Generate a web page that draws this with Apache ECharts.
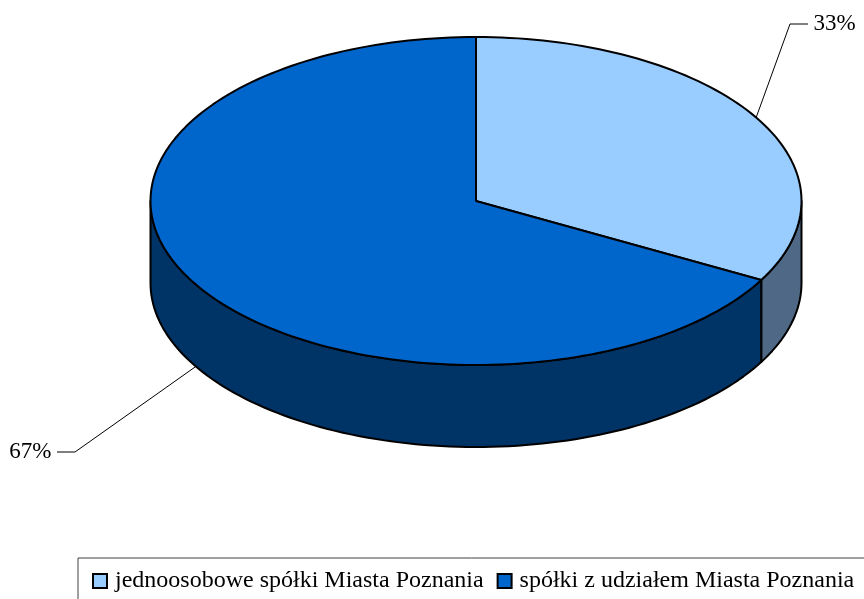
<!DOCTYPE html>
<html>
<head>
<meta charset="utf-8">
<title>Udział spółek</title>
<script src="https://cdn.jsdelivr.net/npm/echarts@6/dist/echarts.min.js"></script>
<style>
  html, body { margin: 0; padding: 0; background: #fff; }
  #chart { width: 864px; height: 599px; }
</style>
</head>
<body>
<div id="chart"></div>
<script>
const categories = ["jednoosobowe spółki Miasta Poznania", "spółki z udziałem Miasta Poznania"];
const shares = [33, 67];

const topColors = ["#99ccff", "#0066cc"];
const wallColors = ["#4f6885", "#003366"];
// where each leader line bends, and which way the label sits from there
const elbows = [[790, 24], [75, 452]];
const labelSide = [1, -1];

const font = '"Liberation Serif", "Times New Roman", serif';
const cx = 476, cy = 201, rx = 325.5, ry = 164, depth = 82;
const total = shares.reduce((a, b) => a + b, 0);

// angle is clockwise from the top of the ellipse, in degrees
function rim(deg, drop) {
  const a = deg * Math.PI / 180;
  return [cx + rx * Math.sin(a), cy - ry * Math.cos(a) + (drop || 0)];
}

function arc(from, to, drop) {
  const pts = [];
  const steps = Math.max(2, Math.ceil((to - from) / 1.5));
  for (let i = 0; i <= steps; i++) {
    pts.push(rim(from + (to - from) * i / steps, drop));
  }
  return pts;
}

function renderSlice(idx) {
  return function (params, api) {
    const value = api.value(0);
    const before = api.value(1);
    const start = echarts.number.linearMap(before, [0, total], [0, 360]);
    const end = echarts.number.linearMap(before + value, [0, total], [0, 360]);
    const mid = (start + end) / 2;
    const children = [];

    // only the front half of the ellipse shows a wall
    const wallFrom = Math.max(start, 90);
    const wallTo = Math.min(end, 270);
    if (wallTo > wallFrom) {
      children.push({
        type: "polygon",
        shape: { points: arc(wallFrom, wallTo, 0).concat(arc(wallFrom, wallTo, depth).reverse()) },
        style: { fill: wallColors[idx], stroke: "#000", lineWidth: 2, lineJoin: "round" }
      });
    }

    children.push({
      type: "polygon",
      shape: { points: [[cx, cy]].concat(arc(start, end, 0)) },
      style: { fill: topColors[idx], stroke: "#000", lineWidth: 2, lineJoin: "round" }
    });

    const onFront = mid > 90 && mid < 270;
    const anchor = rim(mid, onFront ? depth : 0);
    const side = labelSide[idx];
    const elbow = elbows[idx];
    children.push({
      type: "polyline",
      shape: { points: [anchor, elbow, [elbow[0] + side * 18, elbow[1]]] },
      style: { fill: null, stroke: "#000", lineWidth: 1 }
    });
    children.push({
      type: "text",
      style: {
        x: elbow[0] + side * 23.5,
        y: elbow[1],
        text: Math.round(value / total * 100) + "%",
        fill: "#000",
        font: "23px " + font,
        align: side > 0 ? "left" : "right",
        verticalAlign: "middle"
      }
    });
    return { type: "group", children: children };
  };
}

let running = 0;
const series = categories.map((name, i) => {
  const s = {
    type: "custom",
    name: name,
    coordinateSystem: "none",
    silent: true,
    animation: false,
    itemStyle: { color: topColors[i], borderColor: "#000", borderWidth: 2 },
    data: [[shares[i], running]],
    renderItem: renderSlice(i)
  };
  running += shares[i];
  return s;
});

const chart = echarts.init(document.getElementById("chart"), null, { renderer: "canvas" });
chart.setOption({
  backgroundColor: "#fff",
  animation: false,
  legend: {
    data: categories,
    left: 78,
    top: 558,
    width: 900,
    orient: "horizontal",
    icon: "rect",
    itemWidth: 14,
    itemHeight: 14,
    itemGap: 13,
    padding: [11, 60, 14, 14],
    borderColor: "#404040",
    borderWidth: 1,
    selectedMode: false,
    textStyle: { color: "#000", fontFamily: font, fontSize: 24, padding: [0, 0, 0, 3] }
  },
  series: series
});
</script>
</body>
</html>
